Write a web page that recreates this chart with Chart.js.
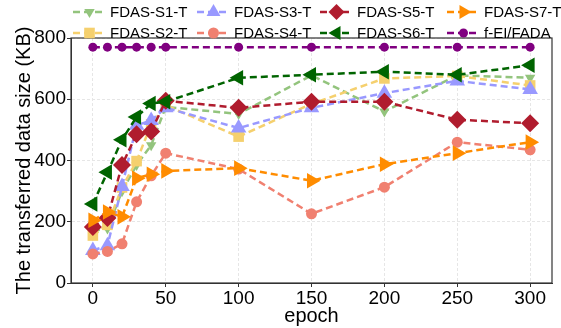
<!DOCTYPE html>
<html>
<head>
<meta charset="utf-8">
<script src="https://cdn.jsdelivr.net/npm/chart.js@4.4.0/dist/chart.umd.min.js"></script>
<style>
  html, body { margin: 0; padding: 0; background: #fff; }
  #wrap { width: 561px; height: 328px; }
</style>
</head>
<body>
<div id="wrap"><canvas id="chart" width="561" height="328"></canvas></div>
<script>
// data
const epochs = [0, 10, 20, 30, 40, 50, 100, 150, 200, 250, 300];
const xTicks = [0, 50, 100, 150, 200, 250, 300];
const yTicks = [0, 200, 400, 600, 800];

const s1 = [170, 178, 300, 385, 450, 575, 552, 678, 560, 678, 670];
const s2 = [155, 190, 312, 398, 518, 580, 478, 585, 668, 676, 645];
const s3 = [106, 122, 315, 515, 531, 572, 506, 572, 620, 660, 632];
const s4 = [95, 103, 128, 265, 350, 424, 372, 226, 313, 460, 435];
const s5 = [183, 212, 385, 486, 495, 595, 572, 592, 592, 533, 522];
const s6 = [258, 362, 468, 542, 586, 592, 670, 680, 690, 680, 711];
const s7 = [205, 232, 216, 342, 355, 366, 375, 334, 388, 424, 460];
const fei = [770, 770, 770, 770, 770, 770, 770, 770, 770, 770, 770];

const names = ['FDAS-S1-T', 'FDAS-S2-T', 'FDAS-S3-T', 'FDAS-S4-T',
               'FDAS-S5-T', 'FDAS-S6-T', 'FDAS-S7-T', 'f-EI/FADA'];
const colors = ['#93c47d', '#f5d06e', '#9999ff', '#f08070',
                '#b01c2e', '#006400', '#ff8c00', '#800080'];
const series = [s1, s2, s3, s4, s5, s6, s7, fei];

// marker style per series
const markers = [
  { style: 'triangle', rot: 180, r: 6 },
  { style: 'rect', rot: 0, r: 7.5 },
  { style: 'triangle', rot: 0, r: 9 },
  { style: 'circle', rot: 0, r: 5.5 },
  { style: 'rectRot', rot: 0, r: 9 },
  { style: 'triangle', rot: -90, r: 9 },
  { style: 'triangle', rot: 90, r: 9 },
  { style: 'circle', rot: 0, r: 4.5 },
];

const datasets = series.map((vals, i) => ({
  label: names[i],
  data: vals.map((v, k) => ({ x: epochs[k], y: v })),
  borderColor: colors[i],
  backgroundColor: colors[i],
  borderWidth: 2.5,
  borderDash: [7, 4],
  pointStyle: markers[i].style,
  pointRotation: markers[i].rot,
  pointRadius: markers[i].r,
  pointBorderWidth: 0,
  pointHoverRadius: markers[i].r,
  order: 10 - i,
  clip: false,
}));

// legend with line + marker, 4 columns x 2 rows
const legendX = [73, 197, 320, 447];
const legendY = [12, 33];
const lineLegend = {
  id: 'lineLegend',
  afterDraw(chart) {
    const ctx = chart.ctx;
    chart.data.datasets.forEach((ds, i) => {
      const x = legendX[Math.floor(i / 2)];
      const y = legendY[i % 2];
      ctx.save();
      ctx.strokeStyle = ds.borderColor;
      ctx.lineWidth = 2.5;
      ctx.setLineDash([7, 4]);
      ctx.beginPath();
      ctx.moveTo(x, y);
      ctx.lineTo(x + 33, y);
      ctx.stroke();
      ctx.setLineDash([]);
      ctx.fillStyle = ds.backgroundColor;
      Chart.helpers.drawPoint(ctx, {
        pointStyle: ds.pointStyle,
        rotation: ds.pointRotation,
        radius: Math.min(ds.pointRadius, 8),
        borderWidth: 0,
      }, x + 16.5, y);
      ctx.fillStyle = '#000';
      ctx.font = '15px "Liberation Sans", Arial, sans-serif';
      ctx.textBaseline = 'middle';
      ctx.fillText(ds.label, x + 37, y + 1);
      ctx.restore();
    });
  }
};

// box round the plot area
const frame = {
  id: 'frame',
  afterDatasetsDraw(chart) {
    const a = chart.chartArea;
    const ctx = chart.ctx;
    ctx.save();
    ctx.strokeStyle = '#333';
    ctx.lineWidth = 1.2;
    ctx.strokeRect(a.left, a.top, a.right - a.left, a.bottom - a.top);
    ctx.restore();
  }
};

const tickFont = { family: '"Liberation Sans", Arial, sans-serif', size: 19 };
const titleFont = { family: '"Liberation Sans", Arial, sans-serif', size: 20 };

new Chart(document.getElementById('chart'), {
  type: 'line',
  data: { datasets },
  options: {
    responsive: false,
    animation: false,
    layout: { padding: { top: 38, right: 3, left: 0, bottom: 0 } },
    plugins: { legend: { display: false }, tooltip: { enabled: false } },
    scales: {
      x: {
        type: 'linear',
        min: -15,
        max: 315,
        afterBuildTicks: (scale) => { scale.ticks = xTicks.map(v => ({ value: v })); },
        afterFit: (scale) => { scale.height = 45; },
        ticks: { font: tickFont, color: '#000', padding: 0, maxRotation: 0 },
        grid: { color: '#e6e6e6', tickColor: '#333', tickLength: 4, lineWidth: 1 },
        border: { display: true, color: '#333', dash: [3, 2] },
        title: { display: true, text: 'epoch', font: titleFont, color: '#000', padding: { top: -2, bottom: 0 } },
      },
      y: {
        min: 0,
        max: 800,
        afterBuildTicks: (scale) => { scale.ticks = yTicks.map(v => ({ value: v })); },
        afterFit: (scale) => { scale.width = 71; },
        ticks: { font: tickFont, color: '#000', padding: 1 },
        grid: { color: '#e6e6e6', tickColor: '#333', tickLength: 4, lineWidth: 1 },
        border: { display: true, color: '#333', dash: [3, 2] },
        title: { display: true, text: 'The transferred data size (KB)', font: titleFont, color: '#000', padding: { top: 12, bottom: 0 } },
      },
    },
  },
  plugins: [frame, lineLegend],
});
</script>
</body>
</html>
